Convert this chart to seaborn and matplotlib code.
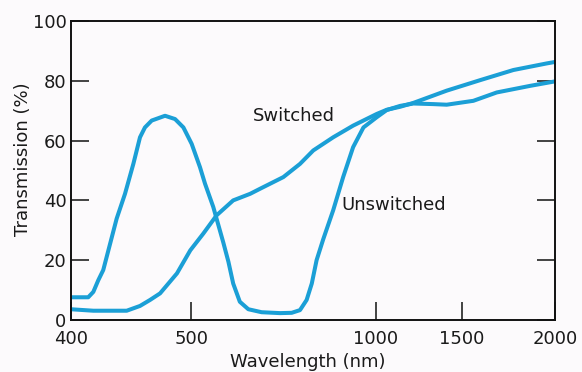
import numpy as np
import pandas as pd
import seaborn as sns
import matplotlib.pyplot as plt


# readings (wavelength in nm, transmission in %)
unswitched_nm = [400, 414.6, 418.8, 422.9, 427, 438.1, 445, 451.9, 457.4, 461.5, 467.1,
                 478.1, 486.4, 493.3, 500.5, 523, 536.6, 559, 586, 600, 613, 631, 654,
                 690, 740, 771.5, 794, 812, 826, 839, 857, 884, 911, 938, 966, 1004,
                 1062, 1140, 1217, 1333, 1411, 1561, 1687, 1866, 2000]
unswitched_t = [7.6, 7.6, 9.4, 13.3, 16.7, 33.9, 42.2, 52.2, 61.1, 64.4, 66.7,
                68.3, 67.2, 64.4, 58.9, 51.1, 45.6, 37.8, 26, 19.5, 12.2, 6.1, 3.6,
                2.6, 2.3, 2.4, 3.3, 6.7, 12.2, 20, 27, 36.7, 47.8, 57.8, 64.4, 67.8,
                70.2, 71.6, 72.4, 72.2, 72.0, 73.3, 76.1, 78.3, 79.8]

switched_nm = [400, 418.8, 446.4, 457.4, 465.7, 474, 488, 499, 532, 568, 613, 659, 686,
               749, 794, 830, 884, 938, 1004, 1062, 1140, 1217, 1411, 1597, 1776, 1955,
               2000]
switched_t = [3.6, 3.1, 3.1, 4.7, 6.7, 8.9, 15.6, 23.3, 28.9, 35, 40, 42.2, 43.9,
              47.8, 52.2, 56.7, 61.1, 65, 68.9, 70.3, 71.3, 72.6, 76.7, 80.2, 83.6, 85.8,
              86.3]

x_ticks = [400, 500, 1000, 1500, 2000]
y_ticks = [0, 20, 40, 60, 80, 100]

# the wavelength axis is stretched piecewise, as in the original
AXIS_NM = [400, 500, 1000, 1500, 2000]
AXIS_POS = [0.0, 120.9, 305.4, 391.4, 484.4]

LINE_COLOR = '#1b9fd6'
BG = '#fcfafc'


def forward(x):
    return np.interp(np.asarray(x, dtype=float), AXIS_NM, AXIS_POS)


def inverse(p):
    return np.interp(np.asarray(p, dtype=float), AXIS_POS, AXIS_NM)


def main():
    sns.set_style('ticks')
    plt.rcParams['font.family'] = ['DejaVu Sans']

    df = pd.concat([
        pd.DataFrame({'nm': unswitched_nm, 'T': unswitched_t, 'state': 'Unswitched'}),
        pd.DataFrame({'nm': switched_nm, 'T': switched_t, 'state': 'Switched'}),
    ])

    fig = plt.figure(figsize=(5.82, 3.72), dpi=100, facecolor=BG)
    ax = fig.add_axes([0.1213, 0.1398, 0.8323, 0.8038])
    ax.set_facecolor(BG)
    ax.set_xscale('function', functions=(forward, inverse))

    sns.lineplot(data=df, x='nm', y='T', hue='state', units='state', estimator=None,
                 palette={'Unswitched': LINE_COLOR, 'Switched': LINE_COLOR},
                 linewidth=2.9, legend=False, ax=ax, sort=False)
    for line in ax.lines:
        line.set_solid_joinstyle('round')
        line.set_solid_capstyle('round')

    ax.set_xlim(400, 2000)
    ax.set_ylim(0, 100)
    ax.set_xticks(x_ticks)
    ax.set_xticklabels([str(v) for v in x_ticks])
    ax.set_yticks(y_ticks)
    ax.set_yticklabels([str(v) for v in y_ticks])
    ax.minorticks_off()

    for s in ax.spines.values():
        s.set_visible(True)
        s.set_linewidth(1.4)
        s.set_color('#111111')
    ax.tick_params(axis='both', direction='in', length=13, width=1.1, colors='#111111',
                   labelsize=13, labelcolor='#1a1a1a')
    ax.tick_params(axis='x', pad=7)
    ax.tick_params(axis='y', pad=3, right=True)

    ax.set_xlabel('Wavelength (nm)', fontsize=13, color='#1a1a1a')
    ax.set_ylabel('Transmission (%)', fontsize=13, color='#1a1a1a')
    ax.xaxis.set_label_coords(0.49, -0.11)
    ax.yaxis.set_label_coords(-0.08, 0.537)

    ax.text(667, 66.5, 'Switched', fontsize=13, color='#1a1a1a', ha='left', va='baseline')
    ax.text(907, 36.7, 'Unswitched', fontsize=13, color='#1a1a1a', ha='left', va='baseline')

    fig.savefig('out.png', dpi=100, facecolor=BG)


main()
